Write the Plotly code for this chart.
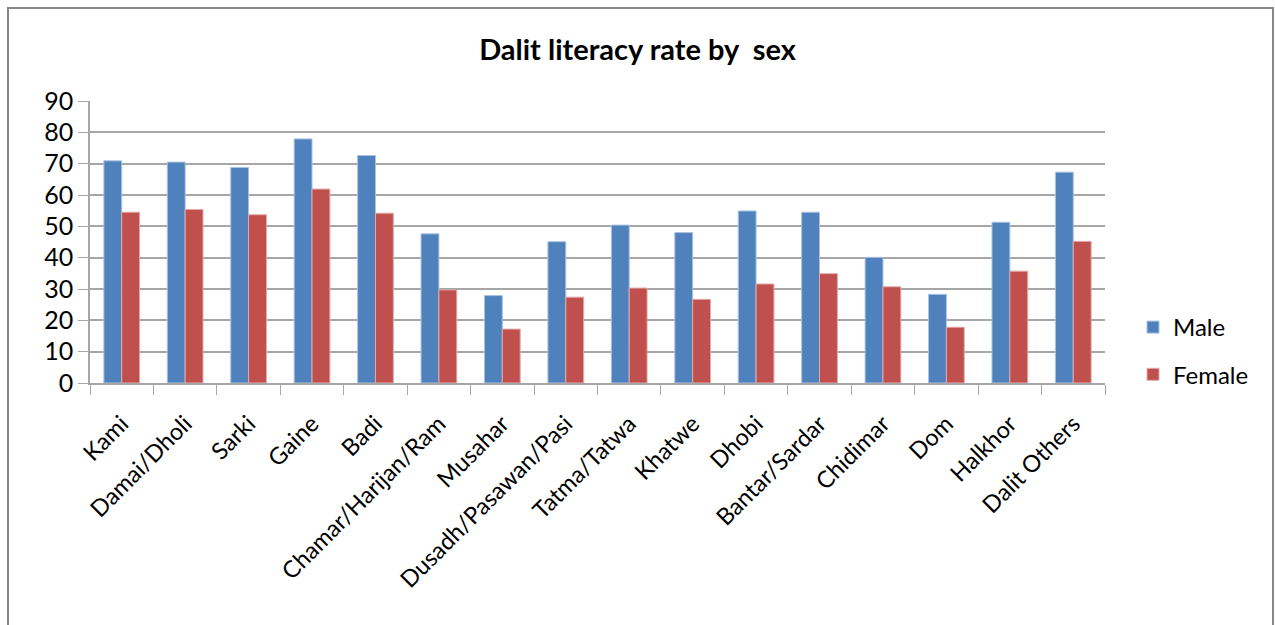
import plotly.graph_objects as go

# Literacy rate (%) by caste group and sex
castes = [
    "Kami", "Damai/Dholi", "Sarki", "Gaine", "Badi", "Chamar/Harijan/Ram",
    "Musahar", "Dusadh/Pasawan/Pasi", "Tatma/Tatwa", "Khatwe", "Dhobi",
    "Bantar/Sardar", "Chidimar", "Dom", "Halkhor", "Dalit Others",
]
male = [70.9, 70.5, 68.8, 77.9, 72.6, 47.6, 27.9, 45.1, 50.4, 48.0, 54.9, 54.5, 40.1, 28.3, 51.3, 67.3]
female = [54.5, 55.4, 53.7, 61.9, 54.2, 29.7, 17.2, 27.4, 30.3, 26.7, 31.6, 34.9, 30.7, 17.8, 35.7, 45.2]
y_ticks = [0, 10, 20, 30, 40, 50, 60, 70, 80, 90]

FONT = "Lato"
GRID = "#A6A6A6"

fig = go.Figure()
fig.add_trace(go.Bar(
    x=castes, y=male, name="Male", legendgroup="m",
    marker=dict(color="#4F81BD", line=dict(color="#A9C2E2", width=1)),
))
fig.add_trace(go.Bar(
    x=castes, y=female, name="Female", legendgroup="f",
    marker=dict(color="#C0504D", line=dict(color="#E2A9A8", width=1)),
))

# outer chart frame
px_l, px_r, px_t, px_b = 90, 1105, 101, 383
pw, ph = px_r - px_l, px_b - px_t
fig.add_shape(
    type="rect", xref="paper", yref="paper",
    x0=(8 - px_l) / pw, x1=(1273 - px_l) / pw,
    y0=(px_b - 640) / ph, y1=(px_b - 8) / ph,
    line=dict(color="#878787", width=2), fillcolor="rgba(0,0,0,0)", layer="below",
)

fig.update_layout(
    width=1275, height=625,
    margin=dict(l=px_l, r=1275 - px_r, t=px_t, b=625 - px_b, autoexpand=False),
    paper_bgcolor="white", plot_bgcolor="white",
    barmode="group", bargap=0.437, bargroupgap=0,
    title=dict(
        text="<b>Dalit literacy rate by  sex</b>",
        x=0.5, xanchor="center", y=1 - 50 / 625, yanchor="middle",
        font=dict(family=FONT, size=29, color="black"),
    ),
    font=dict(family=FONT, color="black"),
    showlegend=True,
    legend=dict(
        x=(1133 - px_l) / pw, xanchor="left",
        y=(px_b - 305) / ph, yanchor="top",
        traceorder="grouped", tracegroupgap=13,
        font=dict(family=FONT, size=24, color="black"),
        itemwidth=30, bgcolor="rgba(0,0,0,0)",
    ),
    xaxis=dict(
        type="category", tickangle=-45,
        tickfont=dict(family=FONT, size=23.5, color="black"),
        ticklabelstandoff=16,
        showline=True, linecolor=GRID, linewidth=1.5,
        ticks="outside", ticklen=10, tickcolor=GRID, tickson="boundaries",
        showgrid=False,
    ),
    yaxis=dict(
        range=[0, 90], tickvals=y_ticks,
        tickfont=dict(family=FONT, size=25, color="black"),
        showline=True, linecolor=GRID, linewidth=1.5,
        ticks="outside", ticklen=10, tickcolor=GRID,
        showgrid=True, gridcolor=GRID, gridwidth=1.5,
        zeroline=False, fixedrange=True,
    ),
)

fig.write_html("out.html")
